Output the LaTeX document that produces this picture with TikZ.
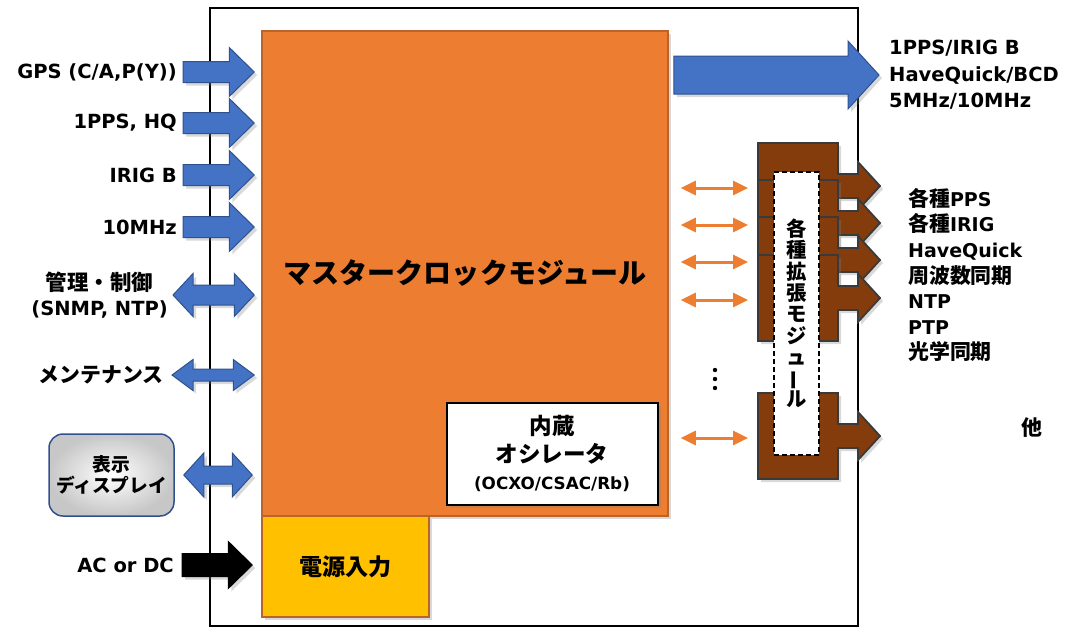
\documentclass[tikz,border=0pt]{standalone}
\usepackage{fontspec}
\setmainfont{DejaVu Sans}
\newfontfamily\cjk{Noto Sans CJK JP}[Scale=1.1]
\usetikzlibrary{arrows.meta,calc,shadows}
\definecolor{sigblue}{HTML}{4472C4}
\definecolor{sigblueedge}{HTML}{2F528F}
\definecolor{clockorange}{HTML}{ED7D31}
\definecolor{clockedge}{HTML}{B9652A}
\definecolor{poweryellow}{HTML}{FFC000}
\definecolor{modbrown}{HTML}{843C0C}
\definecolor{modedge}{HTML}{3A3A3A}

\tikzset{
  blockarrow/.style args={#1/#2/#3}{to path={let \p1=(\tikztostart), \p2=(\tikztotarget) in
      (\x1,{\y1+#1/2}) -- ({\x2-#3},{\y1+#1/2}) -- ({\x2-#3},{\y1+#2/2}) -- (\x2,\y1)
      -- ({\x2-#3},{\y1-#2/2}) -- ({\x2-#3},{\y1-#1/2}) -- (\x1,{\y1-#1/2}) -- cycle}},
  dblarrow/.style args={#1/#2/#3}{to path={let \p1=(\tikztostart), \p2=(\tikztotarget) in
      (\x1,\y1) -- ({\x1+#3},{\y1+#2/2}) -- ({\x1+#3},{\y1+#1/2}) -- ({\x2-#3},{\y1+#1/2})
      -- ({\x2-#3},{\y1+#2/2}) -- (\x2,\y1) -- ({\x2-#3},{\y1-#2/2}) -- ({\x2-#3},{\y1-#1/2})
      -- ({\x1+#3},{\y1-#1/2}) -- ({\x1+#3},{\y1-#2/2}) -- cycle}},
  softshadow/.style={drop shadow={shadow xshift=3pt, shadow yshift=-3pt, opacity=.3}},
  bluearrow/.style={fill=sigblue, draw=sigblueedge, line width=1pt, softshadow},
  orangelink/.style={draw=clockorange, line width=3pt, {Triangle[length=15pt,width=14pt]}-{Triangle[length=15pt,width=14pt]}},
  modshape/.style={fill=modbrown, draw=modedge, line width=1.8pt, softshadow},
  lbl/.style={inner sep=0pt, font=\bfseries\fontsize{19.5}{25}\selectfont},
}

\begin{document}
\begin{tikzpicture}[x=1pt, y=-1pt]
    \useasboundingbox (0,0) rectangle (1066,627);
    \draw[line width=1.5pt] (210,8) rectangle (858,626);

    % boxes inside the frame
    \node[draw=clockedge, fill=clockorange, line width=1.5pt, minimum width=406pt, minimum height=485pt, softshadow, font=\cjk\bfseries\fontsize{25.5}{30}\selectfont] (master) at (465,273.5) {マスタークロックモジュール};
    \node[draw=clockedge, fill=poweryellow, line width=1.5pt, minimum width=167pt, minimum height=101pt, softshadow, font=\cjk\bfseries\fontsize{21}{24}\selectfont] (power) at (345.5,566.5) {電源入力};
    \node[draw=black, fill=white, line width=2pt, minimum width=211pt, minimum height=102pt, softshadow, align=center, font=\cjk\bfseries\fontsize{20.5}{27.5}\selectfont] (osc) at (552,453.5) {内蔵\\オシレータ\\{\rmfamily\fontsize{16.8}{27.5}\selectfont (OCXO/CSAC/Rb)}};

    % inputs
    \foreach \name/\txt/\yy in {gps/{GPS (C/A,P(Y))}/72, pps/{1PPS, HQ}/123, irig/{IRIG B}/175, tenmhz/{10MHz}/227} {
        \node[lbl, anchor=east] (\name) at (177,\yy) {\txt};
        \draw[bluearrow] ($(\name.east)+(6pt,0pt)$) to[blockarrow=21pt/49pt/25pt] ($(master.west|-\name.east)+(-7pt,0pt)$);
    }

    \node[lbl, anchor=east, align=center] (mgmt) at (168,295) {{\cjk 管理・制御}\\(SNMP, NTP)};
    \draw[bluearrow] ($(mgmt.east)+(5pt,0pt)$) to[dblarrow=20pt/43pt/20pt] ($(master.west|-mgmt.east)+(-7pt,0pt)$);

    \node[lbl, anchor=east, font=\cjk\bfseries\fontsize{19}{25}\selectfont] (maint) at (164,375) {メンテナンス};
    \draw[bluearrow] ($(maint.east)+(8pt,0pt)$) to[dblarrow=12pt/31pt/21pt] ($(master.west|-maint.east)+(-7pt,0pt)$);

    \node[draw=sigblueedge, line width=1.5pt, rounded corners=14pt, inner color=white, outer color=black!22, minimum width=125pt, minimum height=82pt, align=center, font=\cjk\bfseries\fontsize{17}{20.5}\selectfont] (disp) at (111.5,475) {表示\\ディスプレイ};
    \draw[bluearrow] ($(disp.east)+(9pt,0pt)$) to[dblarrow=18pt/44pt/20pt] ($(master.west|-disp.east)+(-9pt,0pt)$);

    \node[lbl, anchor=east] (acdc) at (174,565) {AC or DC};
    \draw[fill=black, draw=black, line width=1pt, softshadow] ($(acdc.east)+(8pt,0pt)$) to[blockarrow=23pt/47pt/24pt] ($(power.west|-acdc.east)+(-9pt,0pt)$);

    % output
    \node[lbl, anchor=west, align=left, font=\bfseries\fontsize{19.5}{26.5}\selectfont] (outlbl) at (889,75) {1PPS/IRIG B\\HaveQuick/BCD\\5MHz/10MHz};
    \draw[bluearrow] ($(master.east|-outlbl.west)+(5pt,0pt)$) to[blockarrow=38pt/68pt/31pt] ($(outlbl.west)+(-10pt,0pt)$);

    % expansion modules
    \foreach \i/\t in {1/143,2/180,3/217,4/255,5/393} {
        \draw[modshape] (758,\t) -- (838,\t) -- (838,\t+31) -- (858,\t+31) -- (858,\t+19) -- (880,\t+43) -- (858,\t+67) -- (858,\t+55) -- (838,\t+55) -- (838,\t+86) -- (758,\t+86) -- cycle;
        \coordinate (mod\i) at (758,\t+43);
    }
    \node[draw, dash pattern=on 5pt off 3pt, fill=white, line width=1.3pt, minimum width=45pt, minimum height=283pt, inner sep=0pt, align=center, font=\cjk\bfseries\fontsize{18.5}{21.3}\selectfont] (extmod) at (796.5,313.5) {各\\種\\拡\\張\\モ\\ジ\\ュ\\\rotatebox[origin=c]{90}{ー}\\ル};

    \foreach \i in {1,...,5}
        \draw[orangelink] ($(master.east|-mod\i)+(12pt,-2pt)$) -- ($(mod\i)+(-10pt,-2pt)$);
    \foreach \d in {370,379,388}
        \fill (715,\d) circle (2.2pt);

    \node[lbl, anchor=west, align=left, font=\bfseries\fontsize{19}{25.6}\selectfont] (extlbl) at (908,275) {{\cjk 各種}PPS\\{\cjk 各種}IRIG\\HaveQuick\\{\cjk 周波数同期}\\NTP\\PTP\\{\cjk 光学同期}};
    \node[lbl, font=\cjk\bfseries\fontsize{19}{25}\selectfont] (other) at (1032,428) {他};
\end{tikzpicture}
\end{document}
